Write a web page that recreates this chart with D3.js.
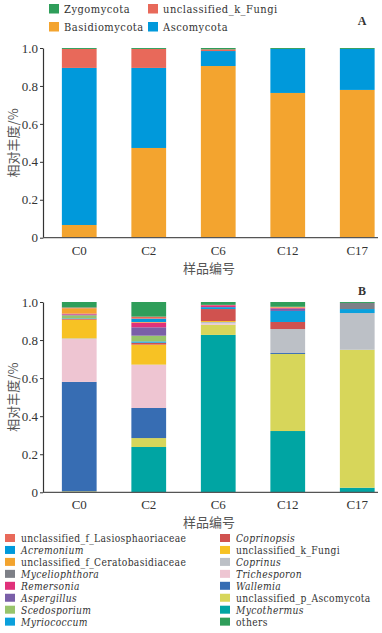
<!DOCTYPE html>
<html><head><meta charset="utf-8">
<script src="https://cdn.jsdelivr.net/npm/d3@7"></script>
<style>
html,body{margin:0;padding:0;background:#fff;}
svg{display:block;}
text{font-family:"Liberation Serif","Times New Roman",serif;fill:#333;}
.cjk{font-family:"Noto Sans CJK SC",sans-serif;fill:#555;}
.leg{font-family:"DejaVu Serif Condensed","DejaVu Serif",serif;}
</style></head>
<body>
<svg id="chart" width="382" height="633"></svg>
<script>
const samples = ["C0","C2","C6","C12","C17"];
const yTicks = [0,0.2,0.4,0.6,0.8,1.0];

// Panel A (phylum), stacked bottom -> top
const phylumNames = ["Basidiomycota","Ascomycota","unclassified_k_Fungi","Zygomycota"];
const basidiomycota = [0.067,0.473,0.905,0.763,0.779];
const ascomycota    = [0.828,0.422,0.079,0.232,0.216];
const phylumKFungi  = [0.100,0.100,0.009,0.000,0.000];
const zygomycota    = [0.005,0.005,0.007,0.005,0.005];
const phylumColors  = ["#f3a42f","#0099db","#e8695a","#2f9e5a"];
const phylumLegendOrder = ["Zygomycota","unclassified_k_Fungi","Basidiomycota","Ascomycota"];

// Panel B (genus), stacked bottom -> top
const genusNames = ["Mycothermus","unclassified_p_Ascomycota","Wallemia","Trichesporon","Coprinus",
  "unclassified_k_Fungi","Coprinopsis","Myriococcum","Scedosporium","Aspergillus","Remersonia",
  "Myceliophthora","unclassified_f_Ceratobasidiaceae","Acremonium","unclassified_f_Lasiosphaoriaceae","others"];
const mycothermus   = [0,0.238,0.827,0.322,0.024];
const pAscomycota   = [0.005,0.047,0.053,0.405,0.725];
const wallemia      = [0.575,0.158,0,0.005,0];
const trichesporon  = [0.225,0.226,0.007,0,0];
const coprinus      = [0.004,0.002,0.008,0.126,0.193];
const genusKFungi   = [0.098,0.105,0.005,0,0];
const coprinopsis   = [0.004,0.010,0.063,0.037,0];
const myriococcum   = [0.003,0.007,0.010,0.058,0.021];
const scedosporium  = [0.016,0.030,0,0,0];
const aspergillus   = [0.004,0.044,0,0.012,0];
const remersonia    = [0.005,0.025,0.010,0.005,0];
const myceliophthora= [0,0,0,0,0.032];
const ceratobasidiaceae = [0.028,0.003,0,0.003,0];
const acremonium    = [0,0.0175,0,0,0];
const lasiosphaoriaceae = [0.004,0.0105,0.002,0.002,0];
const others        = [0.029,0.077,0.015,0.025,0.005];
const genusColors = ["#00a5a3","#d7d65a","#376db3","#eec5d2","#bcc0c6",
  "#f7c224","#d0524f","#0aa0dc","#98c46b","#7a5fa8","#e0317a",
  "#7d8087","#f3a42f","#0099db","#e8695a","#2f9e5a"];
const genusLegendCol1 = ["unclassified_f_Lasiosphaoriaceae","Acremonium","unclassified_f_Ceratobasidiaceae",
  "Myceliophthora","Remersonia","Aspergillus","Scedosporium","Myriococcum"];
const genusLegendCol2 = ["Coprinopsis","unclassified_k_Fungi","Coprinus","Trichesporon","Wallemia",
  "unclassified_p_Ascomycota","Mycothermus","others"];

const phylumSeries = [basidiomycota,ascomycota,phylumKFungi,zygomycota];
const genusSeries = [mycothermus,pAscomycota,wallemia,trichesporon,coprinus,genusKFungi,coprinopsis,
  myriococcum,scedosporium,aspergillus,remersonia,myceliophthora,ceratobasidiaceae,acremonium,lasiosphaoriaceae,others];

const svg = d3.select("#chart");

function table(names, series){
  return samples.map((s,i)=>{ const o={sample:s}; names.forEach((n,k)=>o[n]=series[k][i]); return o; });
}

function panel(names, series, colors, top, bottom, label, labelY){
  const x = d3.scaleBand().domain(samples).range([44.5,392]).paddingInner(0.5).paddingOuter(0.25);
  const y = d3.scaleLinear().domain([0,1]).range([bottom, top]);
  const colorScale = d3.scaleOrdinal().domain(names).range(colors);
  const stacked = d3.stack().keys(names)(table(names, series));
  const g = svg.append("g");
  g.selectAll("g.layer").data(stacked).join("g")
    .attr("fill", d=>colorScale(d.key))
    .selectAll("rect").data(d=>d).join("rect")
    .attr("x", d=>x(d.data.sample))
    .attr("width", x.bandwidth())
    .attr("y", d=>y(d[1]))
    .attr("height", d=>Math.max(0, y(d[0])-y(d[1])));
  // y axis
  const ya = g.append("g").attr("transform","translate(43,0)")
    .call(d3.axisLeft(y).tickValues(yTicks).tickSize(3).tickSizeOuter(0)
      .tickFormat(d=> d===0 ? "0" : d3.format(".1f")(d)));
  ya.select(".domain").attr("stroke","#333").attr("stroke-width",1.2);
  ya.selectAll(".tick line").attr("stroke","#333");
  ya.selectAll(".tick text").attr("font-size",13).attr("fill","#333")
    .attr("font-family","Liberation Serif, serif").attr("x",-5);
  // x axis
  const xa = g.append("g").attr("transform",`translate(0,${bottom})`)
    .call(d3.axisBottom(x).tickSize(0));
  xa.select(".domain").remove();
  g.append("line").attr("x1",43).attr("x2",378).attr("y1",bottom).attr("y2",bottom)
    .attr("stroke","#555").attr("stroke-width",1.2);
  xa.selectAll(".tick text").attr("font-size",13).attr("fill","#333")
    .attr("font-family","Liberation Serif, serif").attr("dy",0).attr("y",17);
  g.append("text").attr("class","cjk").attr("x",209).attr("y",bottom+35)
    .attr("text-anchor","middle").attr("font-size",13).text("样品编号");
  g.append("text").attr("class","cjk")
    .attr("transform",`translate(18,${(top+bottom)/2}) rotate(-90)`)
    .attr("text-anchor","middle").attr("font-size",13).text("相对丰度/%");
  g.append("text").attr("x",362).attr("y",labelY).attr("text-anchor","middle")
    .attr("font-size",12).attr("font-weight","bold").attr("fill","#333").text(label);
}

panel(phylumNames, phylumSeries, phylumColors, 48, 237.7, "A", 25);
panel(genusNames, genusSeries, genusColors, 302, 492.3, "B", 295);

// Legend A
const phylumColor = d3.scaleOrdinal().domain(phylumNames).range(phylumColors);
const legA = svg.append("g");
phylumLegendOrder.forEach((n,i)=>{
  const cx = i%2===0 ? 49 : 148, cy = i<2 ? 4 : 22;
  legA.append("rect").attr("x",cx).attr("y",cy).attr("width",10).attr("height",9.5).attr("fill",phylumColor(n));
  legA.append("text").attr("class","leg").attr("x",cx+15).attr("y",cy+9).attr("font-size",11)
    .attr("letter-spacing",0.5).attr("fill","#222").text(n);
});

// Legend B
const genusColor = d3.scaleOrdinal().domain(genusNames).range(genusColors);
const italic = n => !(n.startsWith("unclassified") || n==="others");
const legB = svg.append("g");
[genusLegendCol1, genusLegendCol2].forEach((col,c)=>{
  col.forEach((n,i)=>{
    const cx = c===0 ? 5 : 220, cy = 534 + i*11.95;
    legB.append("rect").attr("x",cx).attr("y",cy).attr("width",10).attr("height",8).attr("fill",genusColor(n));
    legB.append("text").attr("class","leg").attr("x",cx+16).attr("y",cy+8).attr("font-size",10.2)
      .attr("letter-spacing",0.35).attr("fill","#222")
      .attr("font-style", italic(n) ? "italic" : "normal").text(n);
  });
});
</script>
</body></html>
